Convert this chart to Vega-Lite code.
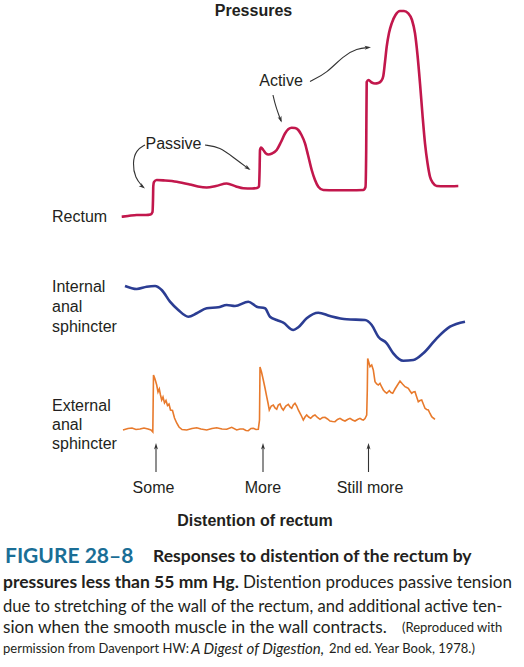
{
"$schema": "https://vega.github.io/schema/vega-lite/v6.json",
"width": 524, "height": 667, "padding": 0,
"autosize": {"type": "fit", "contains": "padding"},
"background": "white",
"config": {"view": {"stroke": null}},
"datasets": {
"rectum": [{"x":121.7,"y":216.7},{"x":128,"y":216},{"x":136.7,"y":215},{"x":146,"y":215},{"x":150.5,"y":214.5},{"x":152.5,"y":212},{"x":153,"y":200},{"x":153.3,"y":186},{"x":154,"y":182},{"x":156.7,"y":180},{"x":165,"y":180.5},{"x":176.7,"y":181.7},{"x":190,"y":184.5},{"x":198,"y":186.5},{"x":206.7,"y":187.5},{"x":216,"y":186},{"x":226.7,"y":183.5},{"x":236,"y":186.5},{"x":243.3,"y":188.3},{"x":252,"y":188.5},{"x":257,"y":188},{"x":259,"y":186.5},{"x":259.6,"y":170},{"x":260,"y":150},{"x":261,"y":147.5},{"x":263.3,"y":150},{"x":266,"y":153.5},{"x":268.3,"y":154.5},{"x":272,"y":153.5},{"x":276.7,"y":150},{"x":281,"y":142},{"x":285,"y":133.5},{"x":288.5,"y":129},{"x":291.7,"y":127.7},{"x":295,"y":128},{"x":298.3,"y":130},{"x":301.5,"y":135},{"x":305,"y":143.3},{"x":308,"y":155},{"x":311.7,"y":170},{"x":315,"y":180},{"x":318.3,"y":186.7},{"x":323.3,"y":190},{"x":335,"y":190.3},{"x":350,"y":190.3},{"x":363.3,"y":190},{"x":365.5,"y":187},{"x":366.2,"y":150},{"x":366.7,"y":82},{"x":368.5,"y":80},{"x":371.7,"y":82.5},{"x":375,"y":83.5},{"x":378.3,"y":83},{"x":381.5,"y":80.5},{"x":383.3,"y":76},{"x":385,"y":62},{"x":386.7,"y":46.7},{"x":389,"y":33},{"x":391.7,"y":23.3},{"x":395.5,"y":15},{"x":400,"y":11},{"x":404,"y":11},{"x":408.3,"y":13.3},{"x":412,"y":20},{"x":415,"y":33.3},{"x":417.5,"y":55},{"x":420,"y":83.3},{"x":422.5,"y":115},{"x":425,"y":143.3},{"x":427.5,"y":163},{"x":430,"y":176.7},{"x":433,"y":183},{"x":436.7,"y":186},{"x":445,"y":186.3},{"x":458.3,"y":186}],
"ias": [{"x":125,"y":286},{"x":136.7,"y":289},{"x":146.7,"y":286.7},{"x":155,"y":286},{"x":161.7,"y":290},{"x":170,"y":301.7},{"x":178.3,"y":310},{"x":188.3,"y":316.7},{"x":196.7,"y":313.3},{"x":206.7,"y":308.3},{"x":218.3,"y":307.3},{"x":226.7,"y":305},{"x":235,"y":306},{"x":248.3,"y":301.7},{"x":256.7,"y":306.7},{"x":265,"y":308.3},{"x":270,"y":316.7},{"x":276.7,"y":320},{"x":283.3,"y":322.7},{"x":293.3,"y":330},{"x":298.3,"y":327.3},{"x":306.7,"y":318.3},{"x":318.3,"y":312.7},{"x":330,"y":316},{"x":346.7,"y":319.3},{"x":365,"y":320},{"x":371.7,"y":325},{"x":378.3,"y":336.7},{"x":386.7,"y":343.3},{"x":393.3,"y":353.3},{"x":403.3,"y":360.7},{"x":413.3,"y":360},{"x":423.3,"y":353.3},{"x":436.7,"y":338.3},{"x":450,"y":326.7},{"x":465,"y":321.7}],
"eas": [{"x":123,"y":430},{"x":128,"y":428.5},{"x":132,"y":428},{"x":136,"y":429.5},{"x":140,"y":429},{"x":144,"y":428},{"x":148,"y":429},{"x":151,"y":430},{"x":152.8,"y":432},{"x":153.2,"y":400},{"x":153.5,"y":375},{"x":155,"y":379},{"x":156.7,"y":385},{"x":158,"y":392},{"x":159.3,"y":389},{"x":160.5,"y":395},{"x":161.7,"y":400},{"x":163,"y":397},{"x":164.5,"y":403},{"x":166,"y":400.5},{"x":167.5,"y":405.5},{"x":169,"y":404},{"x":170.5,"y":410},{"x":172.5,"y":410.5},{"x":174.5,"y":418},{"x":176.7,"y":423},{"x":179,"y":427},{"x":182,"y":429.5},{"x":186.7,"y":430},{"x":192,"y":428.5},{"x":196.7,"y":427.7},{"x":201,"y":429},{"x":206.7,"y":430},{"x":212,"y":428.5},{"x":216.7,"y":427.7},{"x":222,"y":429},{"x":226.7,"y":429.3},{"x":231.7,"y":427.3},{"x":236.7,"y":430},{"x":240,"y":429},{"x":243.3,"y":429},{"x":246,"y":430.5},{"x":248.3,"y":430.7},{"x":251,"y":428.5},{"x":253.3,"y":428.3},{"x":256,"y":429.5},{"x":258.3,"y":429.3},{"x":259.5,"y":420},{"x":260,"y":367},{"x":261.5,"y":372},{"x":263.3,"y":380},{"x":265,"y":388},{"x":266.7,"y":396.7},{"x":268,"y":403},{"x":269.3,"y":410},{"x":271.3,"y":406},{"x":273.3,"y":405},{"x":275,"y":408},{"x":276.7,"y":409.3},{"x":278.3,"y":405},{"x":280,"y":404},{"x":281.7,"y":408},{"x":283.3,"y":410},{"x":285.8,"y":406},{"x":288.3,"y":404.3},{"x":290,"y":407},{"x":291.7,"y":408.3},{"x":293.3,"y":405},{"x":295,"y":403.3},{"x":296.7,"y":406},{"x":298.3,"y":410},{"x":301,"y":415},{"x":303.3,"y":420},{"x":305,"y":417},{"x":306.7,"y":415},{"x":308.7,"y":417},{"x":310.7,"y":418.3},{"x":313,"y":416},{"x":315,"y":415},{"x":317.5,"y":417.5},{"x":320,"y":419.3},{"x":322.5,"y":417.5},{"x":325,"y":417.3},{"x":327.5,"y":419},{"x":330,"y":421},{"x":332.5,"y":421.5},{"x":335,"y":421.7},{"x":337.5,"y":419.5},{"x":340,"y":418.3},{"x":342.5,"y":420},{"x":345,"y":421},{"x":347.5,"y":419.5},{"x":350,"y":418.3},{"x":352.5,"y":420},{"x":355,"y":421},{"x":357.5,"y":419.5},{"x":360,"y":418.3},{"x":361.7,"y":419.5},{"x":363.3,"y":420},{"x":365,"y":418.5},{"x":366.7,"y":415},{"x":367.3,"y":390},{"x":367.7,"y":358.5},{"x":369,"y":363},{"x":370,"y":366.7},{"x":371.7,"y":365},{"x":373.3,"y":370},{"x":375,"y":381.7},{"x":376.7,"y":384},{"x":378.3,"y":385},{"x":380,"y":383.3},{"x":381.7,"y":387},{"x":383.3,"y":390},{"x":385,"y":392},{"x":386.7,"y":393.3},{"x":389.3,"y":390.7},{"x":391,"y":392.5},{"x":392.7,"y":393.3},{"x":395,"y":389},{"x":397.5,"y":385},{"x":400,"y":381},{"x":402.5,"y":384},{"x":405,"y":386.7},{"x":406.7,"y":387.5},{"x":408.3,"y":388.3},{"x":410,"y":391},{"x":411.7,"y":393.3},{"x":413.3,"y":392},{"x":415,"y":391.7},{"x":416.7,"y":397},{"x":418.3,"y":401.7},{"x":420,"y":400.5},{"x":421.7,"y":400},{"x":423.3,"y":404},{"x":425,"y":408.3},{"x":426.7,"y":409.5},{"x":428.3,"y":410},{"x":430,"y":413.5},{"x":431.7,"y":416.7},{"x":433.3,"y":418},{"x":435,"y":419.3}],
"curves": [
{"a":"pl","i":0,"x":145,"y":145},{"a":"pl","i":1,"x":136,"y":150},{"a":"pl","i":2,"x":132.5,"y":163},{"a":"pl","i":3,"x":135,"y":178},{"a":"pl","i":4,"x":143,"y":187},
{"a":"pr","i":0,"x":205,"y":145},{"a":"pr","i":1,"x":220,"y":147},{"a":"pr","i":2,"x":234,"y":158},{"a":"pr","i":3,"x":249,"y":169},
{"a":"ad","i":0,"x":273,"y":95},{"a":"ad","i":1,"x":275.5,"y":106},{"a":"ad","i":2,"x":281,"y":121},
{"a":"ar","i":0,"x":310,"y":81.5},{"a":"ar","i":1,"x":327,"y":73},{"a":"ar","i":2,"x":343,"y":56},{"a":"ar","i":3,"x":357,"y":48.5},{"a":"ar","i":4,"x":369,"y":47.5},
{"a":"u1","i":0,"x":156,"y":446},{"a":"u1","i":1,"x":156,"y":472},
{"a":"u2","i":0,"x":263,"y":446},{"a":"u2","i":1,"x":263,"y":472},
{"a":"u3","i":0,"x":368.5,"y":446},{"a":"u3","i":1,"x":368.5,"y":472}],
"heads": [{"h":"pl","x":145,"y":188.5},{"h":"pr","x":250.5,"y":170},{"h":"ad","x":281.7,"y":122.5},{"h":"ar","x":371,"y":47.3},{"h":"up","x":156,"y":443},{"h":"up","x":263,"y":443},{"h":"up","x":368.5,"y":443}],
"labelsL": [{"t":"Rectum","x":52,"y":217},{"t":"Internal","x":52,"y":287},{"t":"anal","x":52,"y":307},{"t":"sphincter","x":52,"y":327},{"t":"External","x":52,"y":406},{"t":"anal","x":52,"y":425},{"t":"sphincter","x":52,"y":444}],
"labelsC": [{"t":"Passive","x":173.5,"y":144},{"t":"Active","x":281,"y":80.5},{"t":"Some","x":153.5,"y":488},{"t":"More","x":263,"y":488},{"t":"Still more","x":370,"y":488}],
"titles": [{"t":"Pressures","x":253.5,"y":11},{"t":"Distention of rectum","x":255,"y":521}],
"capBlue": [{"t":"FIGURE 28–8","x":5,"y":557}],
"capBold": [{"t":"Responses to distention of the rectum by","x":153,"y":557},{"t":"pressures less than 55 mm Hg.","x":3,"y":583}],
"capReg2": [{"t":"Distention produces passive tension","x":243,"y":583}],
"capReg3": [{"t":"due to stretching of the wall of the rectum, and additional active ten-","x":3,"y":607}],
"capReg4": [{"t":"sion when the smooth muscle in the wall contracts.","x":3,"y":628}],
"capSmall": [{"t":"(Reproduced with","x":402,"y":628},{"t":"permission from Davenport HW:","x":3,"y":649},{"t":"2nd ed. Year Book, 1978.)","x":329,"y":649}],
"capItal": [{"t":"A Digest of Digestion,","x":191,"y":649}]
},
"encoding": {
"x": {"field":"x","type":"quantitative","scale":{"domain":[0,524],"nice":false,"zero":false},"axis":null},
"y": {"field":"y","type":"quantitative","scale":{"domain":[0,667],"nice":false,"zero":false,"reverse":true},"axis":null}
},
"layer": [
{"data":{"name":"rectum"},"mark":{"type":"line","color":"#c2174c","strokeWidth":2.6,"interpolate":"monotone"}},
{"data":{"name":"ias"},"mark":{"type":"line","color":"#2b3d93","strokeWidth":2.6,"interpolate":"monotone"}},
{"data":{"name":"eas"},"mark":{"type":"line","color":"#e87a2c","strokeWidth":1.6,"strokeJoin":"miter"}},
{"data":{"name":"curves"},"mark":{"type":"line","color":"#333333","strokeWidth":1.1,"interpolate":"basis"},"encoding":{"detail":{"field":"a"},"order":{"field":"i","type":"quantitative"}}},
{"data":{"name":"heads"},"transform":[{"filter":"datum.h=='pl'"}],"mark":{"type":"point","shape":"M0,0L0.5,1.6L0,1.2L-0.5,1.6Z","size":64,"filled":true,"color":"#333333","opacity":1,"angle":128}},
{"data":{"name":"heads"},"transform":[{"filter":"datum.h=='pr'"}],"mark":{"type":"point","shape":"M0,0L0.5,1.6L0,1.2L-0.5,1.6Z","size":64,"filled":true,"color":"#333333","opacity":1,"angle":125}},
{"data":{"name":"heads"},"transform":[{"filter":"datum.h=='ad'"}],"mark":{"type":"point","shape":"M0,0L0.5,1.6L0,1.2L-0.5,1.6Z","size":64,"filled":true,"color":"#333333","opacity":1,"angle":160}},
{"data":{"name":"heads"},"transform":[{"filter":"datum.h=='ar'"}],"mark":{"type":"point","shape":"M0,0L0.5,1.6L0,1.2L-0.5,1.6Z","size":64,"filled":true,"color":"#333333","opacity":1,"angle":86}},
{"data":{"name":"heads"},"transform":[{"filter":"datum.h=='up'"}],"mark":{"type":"point","shape":"M0,0L0.5,1.6L0,1.2L-0.5,1.6Z","size":64,"filled":true,"color":"#333333","opacity":1,"angle":0}},
{"data":{"name":"labelsL"},"mark":{"type":"text","align":"left","baseline":"middle","font":"Liberation Sans","fontSize":16,"color":"#231f20"},"encoding":{"text":{"field":"t"}}},
{"data":{"name":"labelsC"},"mark":{"type":"text","align":"center","baseline":"middle","font":"Liberation Sans","fontSize":16,"color":"#231f20"},"encoding":{"text":{"field":"t"}}},
{"data":{"name":"titles"},"mark":{"type":"text","align":"center","baseline":"middle","font":"Liberation Sans","fontSize":16,"fontWeight":"bold","color":"#231f20"},"encoding":{"text":{"field":"t"}}},
{"data":{"name":"capBlue"},"mark":{"type":"text","align":"left","baseline":"middle","font":"Lato","fontSize":21,"fontWeight":"bold","color":"#1a6e96"},"encoding":{"text":{"field":"t"}}},
{"data":{"name":"capBold"},"mark":{"type":"text","align":"left","baseline":"middle","font":"Lato","fontSize":17.5,"fontWeight":"bold","color":"#231f20"},"encoding":{"text":{"field":"t"}}},
{"data":{"name":"capReg2"},"mark":{"type":"text","align":"left","baseline":"middle","font":"Lato","fontSize":17,"color":"#231f20"},"encoding":{"text":{"field":"t"}}},
{"data":{"name":"capReg3"},"mark":{"type":"text","align":"left","baseline":"middle","font":"Lato","fontSize":16.6,"color":"#231f20"},"encoding":{"text":{"field":"t"}}},
{"data":{"name":"capReg4"},"mark":{"type":"text","align":"left","baseline":"middle","font":"Lato","fontSize":17.2,"color":"#231f20"},"encoding":{"text":{"field":"t"}}},
{"data":{"name":"capSmall"},"mark":{"type":"text","align":"left","baseline":"middle","font":"Lato","fontSize":13,"color":"#231f20"},"encoding":{"text":{"field":"t"}}},
{"data":{"name":"capItal"},"mark":{"type":"text","align":"left","baseline":"middle","font":"Lato","fontSize":15,"fontStyle":"italic","color":"#231f20"},"encoding":{"text":{"field":"t"}}}
]
}
